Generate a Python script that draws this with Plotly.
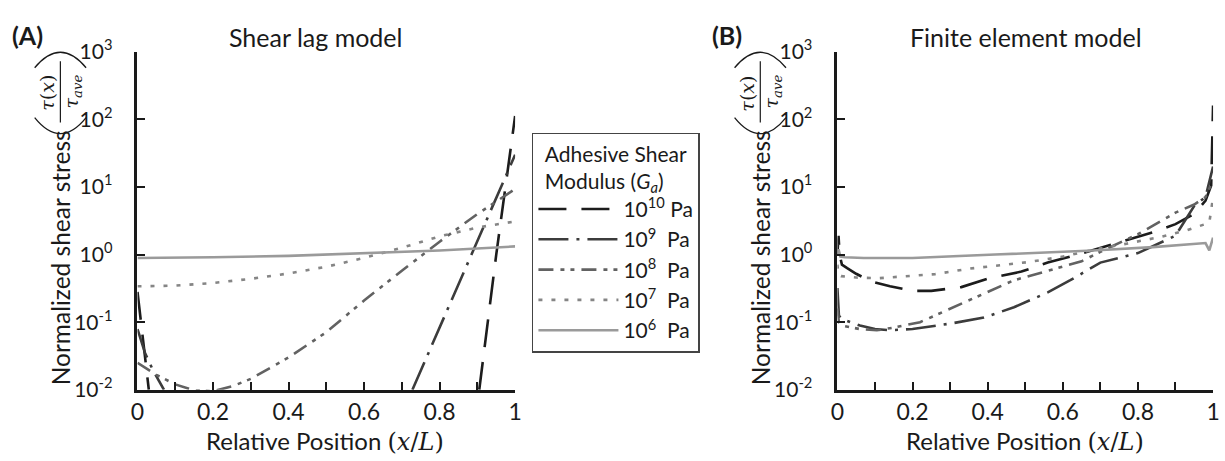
import plotly.graph_objects as go

W, H = 1225, 461

# ---------------- data ----------------
series_names = ["10<sup>10</sup> Pa", "10<sup>9</sup>\u00a0\u00a0Pa", "10<sup>8</sup>\u00a0\u00a0Pa",
                "10<sup>7</sup>\u00a0\u00a0Pa", "10<sup>6</sup>\u00a0\u00a0Pa"]

# Shear lag model (panel A)
sl_x_1e10 = [0, 0.01, 0.02, 0.03, None, 0.905, 0.95, 1.0]
sl_y_1e10 = [0.28, 0.089, 0.028, 0.01, None, 0.01, 1.0, 112]
sl_x_1e9 = [0, 0.02, 0.04, 0.07, None, 0.728, 0.8, 0.9, 1.0]
sl_y_1e9 = [0.079, 0.035, 0.02, 0.01, None, 0.01, 0.083, 1.58, 30]
sl_x_1e8 = [0, 0.05, 0.1, 0.15, 0.2, 0.25, 0.3, 0.4, 0.5, 0.6, 0.7, 0.8, 0.9, 1.0]
sl_y_1e8 = [0.025, 0.0166, 0.012, 0.0098, 0.0095, 0.0112, 0.0145, 0.030, 0.071, 0.209, 0.575, 1.55, 3.98, 9.33]
sl_x_1e7 = [0, 0.1, 0.2, 0.3, 0.4, 0.5, 0.6, 0.7, 0.8, 0.9, 1.0]
sl_y_1e7 = [0.339, 0.347, 0.38, 0.437, 0.525, 0.661, 0.891, 1.26, 1.86, 2.51, 3.09]
sl_x_1e6 = [0, 0.2, 0.4, 0.6, 0.8, 1.0]
sl_y_1e6 = [0.89, 0.91, 0.955, 1.05, 1.15, 1.32]

# Finite element model (panel B)
fe_x_1e10 = [0, 0.003, 0.006, 0.012, 0.026, 0.05, 0.09, 0.14, 0.2, 0.25, 0.33, 0.4, 0.49, 0.56, 0.64,
             0.7, 0.77, 0.84, 0.9, 0.95, 0.98, 0.995, 1.0]
fe_y_1e10 = [1.0, 1.9, 1.0, 0.71, 0.63, 0.52, 0.40, 0.34, 0.29, 0.29, 0.33, 0.44, 0.56, 0.76, 1.0,
             1.26, 1.62, 2.14, 2.82, 4.0, 6.3, 10.5, 160]
fe_x_1e9 = [0, 0.004, 0.01, 0.02, 0.06, 0.1, 0.14, 0.2, 0.3, 0.39, 0.47, 0.56, 0.62, 0.7, 0.8, 0.9,
            0.95, 0.98, 1.0]
fe_y_1e9 = [0.32, 0.126, 0.112, 0.107, 0.089, 0.079, 0.076, 0.079, 0.095, 0.117, 0.166, 0.275, 0.417,
            0.76, 1.05, 1.9, 5.25, 7.1, 20]
fe_x_1e8 = [0, 0.004, 0.01, 0.03, 0.06, 0.105, 0.15, 0.22, 0.3, 0.35, 0.47, 0.56, 0.65, 0.7, 0.8, 0.9,
            0.95, 0.98, 1.0]
fe_y_1e8 = [0.16, 0.10, 0.089, 0.085, 0.079, 0.076, 0.083, 0.10, 0.158, 0.209, 0.417, 0.575, 0.794,
            1.10, 2.0, 4.17, 5.5, 7.1, 12.6]
fe_x_1e7 = [0, 0.003, 0.01, 0.05, 0.11, 0.2, 0.26, 0.35, 0.45, 0.51, 0.6, 0.68, 0.77, 0.86, 0.93,
            0.99, 1.0]
fe_y_1e7 = [0.71, 0.50, 0.48, 0.457, 0.447, 0.479, 0.513, 0.617, 0.708, 0.776, 0.933, 1.17, 1.45,
            1.82, 2.29, 2.95, 7.1]
fe_x_1e6 = [0, 0.003, 0.008, 0.02, 0.07, 0.2, 0.42, 0.6, 0.68, 0.84, 0.95, 0.98, 0.99, 1.0]
fe_y_1e6 = [1.0, 1.2, 0.93, 0.91, 0.89, 0.89, 1.0, 1.1, 1.15, 1.29, 1.41, 1.48, 1.15, 1.78]

x_tickvals = [0, 0.1, 0.2, 0.3, 0.4, 0.5, 0.6, 0.7, 0.8, 0.9, 1.0]
x_ticktext = ["0", "", "0.2", "", "0.4", "", "0.6", "", "0.8", "", "1"]
y_tickvals = [0.01, 0.1, 1, 10, 100, 1000]
y_ticktext = ["10<sup>-2</sup>", "10<sup>-1</sup>", "10<sup>0</sup>", "10<sup>1</sup>",
              "10<sup>2</sup>", "10<sup>3</sup>"]

# ---------------- styles ----------------
colors = ["#1c1c1c", "#3c3c3c", "#626262", "#858585", "#9a9a9a"]
dashes = ["28px,15px", "30px,8px,3px,8px", "15px,7px,4px,6px,4px,7px", "4px,9px", "solid"]
FONT = "Lato"

def px(x):
    return x / W

def py(y):
    return 1 - y / H

fig = go.Figure()

sl = [(sl_x_1e10, sl_y_1e10), (sl_x_1e9, sl_y_1e9), (sl_x_1e8, sl_y_1e8), (sl_x_1e7, sl_y_1e7),
      (sl_x_1e6, sl_y_1e6)]
fe = [(fe_x_1e10, fe_y_1e10), (fe_x_1e9, fe_y_1e9), (fe_x_1e8, fe_y_1e8), (fe_x_1e7, fe_y_1e7),
      (fe_x_1e6, fe_y_1e6)]

for i, (xs, ys) in enumerate(sl):
    fig.add_trace(go.Scatter(x=xs, y=ys, mode="lines", name=series_names[i],
                             line=dict(color=colors[i], width=2.6, dash=dashes[i]),
                             xaxis="x", yaxis="y", showlegend=True, connectgaps=False))
for i, (xs, ys) in enumerate(fe):
    fig.add_trace(go.Scatter(x=xs, y=ys, mode="lines", name=series_names[i],
                             line=dict(color=colors[i], width=2.6, dash=dashes[i]),
                             xaxis="x2", yaxis="y2", showlegend=False))

axis_common_x = dict(range=[0, 1], tickvals=x_tickvals, ticktext=x_ticktext, ticks="inside",
                     ticklen=8, tickwidth=2.2, tickcolor="#1a1a1a", showline=True, linewidth=2.6,
                     linecolor="#1a1a1a", showgrid=False, zeroline=False,
                     tickfont=dict(family=FONT, size=23, color="#1a1a1a"), ticklabelstandoff=0)
axis_common_y = dict(type="log", range=[-2, 3], tickvals=y_tickvals, ticktext=y_ticktext,
                     ticks="inside", ticklen=8, tickwidth=2.2, tickcolor="#1a1a1a", showline=True,
                     linewidth=2.6, linecolor="#1a1a1a", showgrid=False, zeroline=False,
                     tickfont=dict(family=FONT, size=21, color="#1a1a1a"), ticklabelstandoff=18)

ydom = [py(397), py(38)]
fig.update_layout(
    width=W, height=H, margin=dict(l=0, r=0, t=0, b=0),
    paper_bgcolor="white", plot_bgcolor="white",
    xaxis=dict(domain=[px(132), px(514)], anchor="y", **axis_common_x),
    yaxis=dict(domain=ydom, anchor="x", **axis_common_y),
    xaxis2=dict(domain=[px(840), px(1220)], anchor="y2", **axis_common_x),
    yaxis2=dict(domain=ydom, anchor="x2", **axis_common_y),
    font=dict(family=FONT, color="#1a1a1a"),
    legend=dict(x=px(531), y=py(124), xanchor="left", yanchor="top", bgcolor="white",
                bordercolor="#444444", borderwidth=1.5, font=dict(family=FONT, size=21),
                itemwidth=80, tracegroupgap=0,
                title=dict(text="Adhesive Shear<br>Modulus (<i>G<sub>a</sub></i>)", side="top center",
                           font=dict(family=FONT, size=21))),
)

ann = []
def text(x, y, s, size=22, xanchor="center", angle=0, family=FONT, bold=False):
    if bold:
        s = "<b>" + s + "</b>"
    ann.append(dict(x=px(x), y=py(y), xref="paper", yref="paper", text=s, showarrow=False,
                    xanchor=xanchor, yanchor="middle", textangle=angle,
                    font=dict(family=family, size=size, color="#1a1a1a")))

text(3, 20, "(A)", size=25, xanchor="left", bold=True)
text(711, 20, "(B)", size=25, xanchor="left", bold=True)
text(312, 22, "Shear lag model", size=25)
text(1031, 22, "Finite element model", size=25)
serif = '<span style="font-family:DejaVu Serif"><i>x</i>/<i>L</i>)</span>'
for cx in (322, 1030):
    text(cx, 451, 'Relative Position <span style="font-family:DejaVu Serif">(</span>' + serif, size=24)

shapes = []
for ax in (132, 840):
    text(ax - 77, 257, "Normalized shear stress", size=24.5, angle=-90)
    text(ax - 91, 82, '<i>τ</i>(<i>x</i>)', size=19, angle=-90, family="DejaVu Serif")
    text(ax - 66, 80, '<i>τ<sub>ave</sub></i>', size=19, angle=-90, family="DejaVu Serif")
    shapes.append(dict(type="line", xref="paper", yref="paper", x0=px(ax - 78), x1=px(ax - 78),
                       y0=py(48), y1=py(113), line=dict(color="#1a1a1a", width=1.2)))
    # big parentheses (rotated)
    shapes.append(dict(type="path", xref="paper", yref="paper",
                       path=f"M {px(ax-104)},{py(55)} Q {px(ax-78)},{py(22)} {px(ax-52)},{py(55)}",
                       line=dict(color="#1a1a1a", width=1.3)))
    shapes.append(dict(type="path", xref="paper", yref="paper",
                       path=f"M {px(ax-104)},{py(108)} Q {px(ax-78)},{py(142)} {px(ax-52)},{py(108)}",
                       line=dict(color="#1a1a1a", width=1.3)))

fig.update_layout(annotations=ann, shapes=shapes)
fig.write_html("out.html")
